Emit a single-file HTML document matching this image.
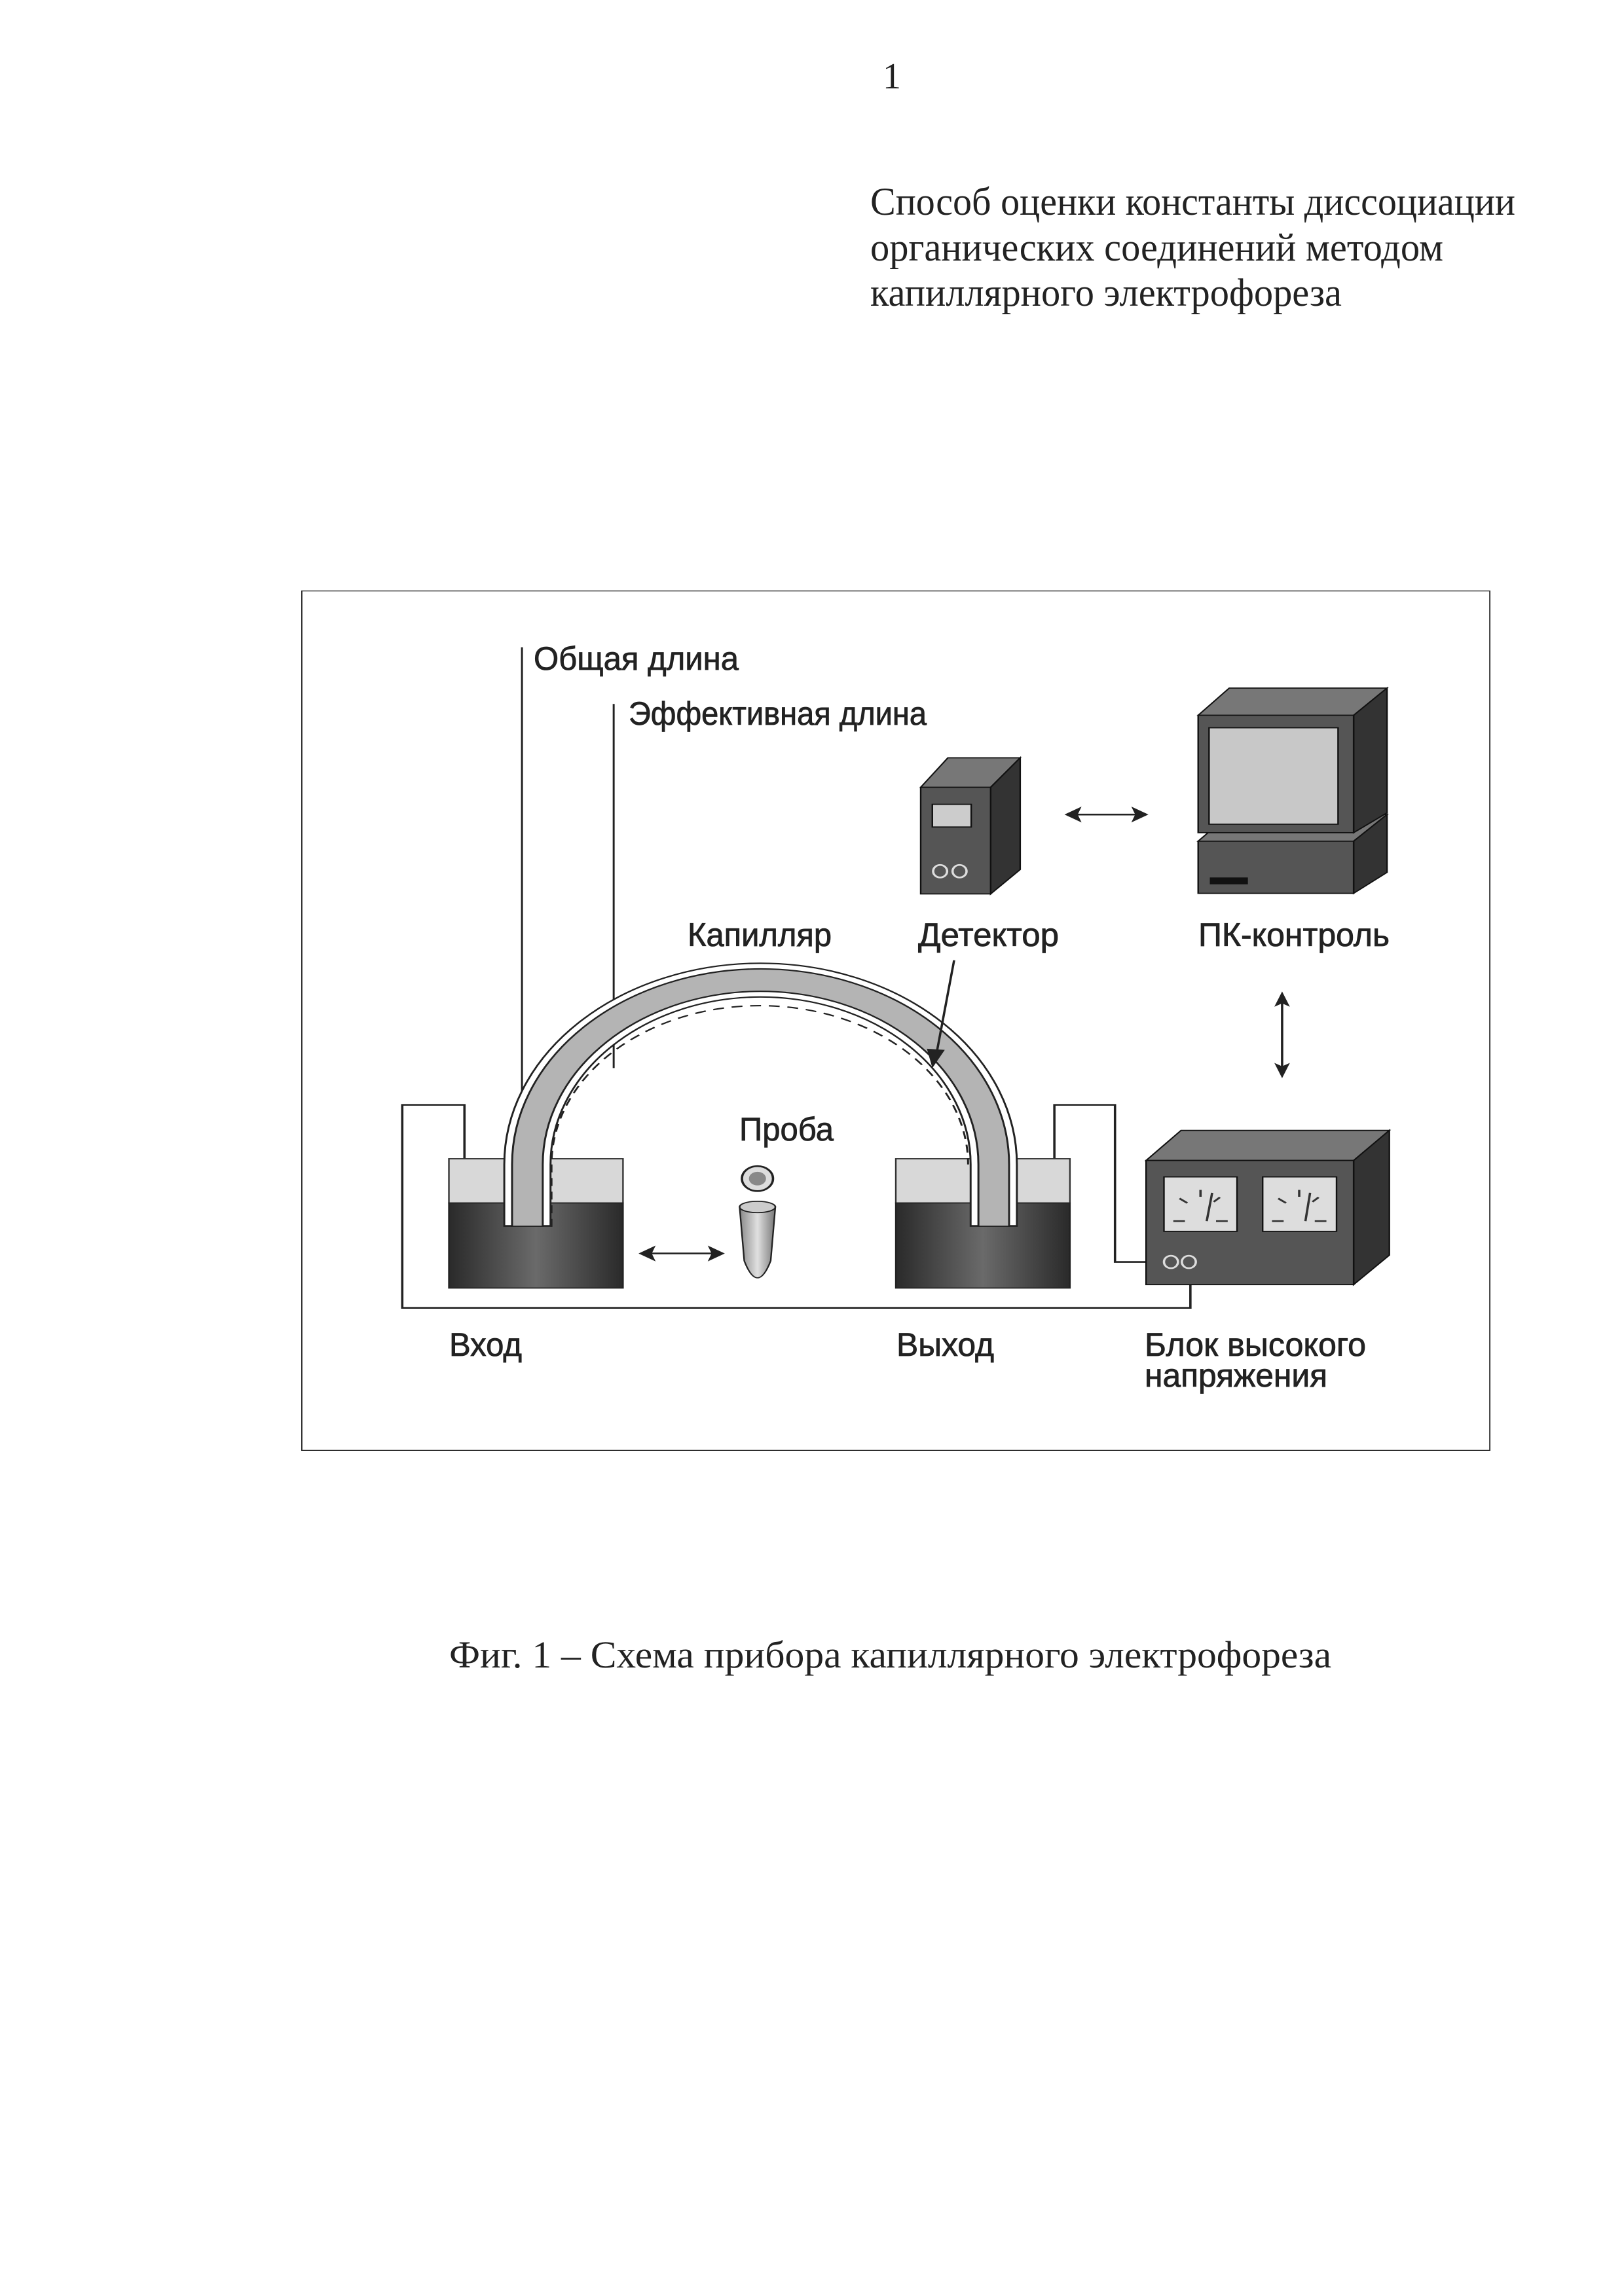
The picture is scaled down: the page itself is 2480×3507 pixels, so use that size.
<!DOCTYPE html>
<html><head><meta charset="utf-8"><style>html,body{margin:0;padding:0;background:#fff}svg{display:block}</style></head>
<body>
<svg xmlns="http://www.w3.org/2000/svg" width="2480" height="3507" viewBox="0 0 2480 3507">
<defs>
<linearGradient id="liq" x1="0" x2="1" y1="0" y2="0">
<stop offset="0" stop-color="#2a2a2a"/><stop offset="0.5" stop-color="#6a6a6a"/><stop offset="1" stop-color="#2a2a2a"/>
</linearGradient>
<linearGradient id="tube" x1="0" x2="1">
<stop offset="0" stop-color="#888"/><stop offset="0.5" stop-color="#e0e0e0"/><stop offset="1" stop-color="#777"/>
</linearGradient>
</defs>
<g font-family="'Liberation Serif', serif" fill="#222">
<text x="1348" y="135" font-size="56">1</text>
<text x="1329" y="328" font-size="60" textLength="985" lengthAdjust="spacingAndGlyphs">Способ оценки константы диссоциации</text>
<text x="1329" y="398" font-size="60" textLength="875" lengthAdjust="spacingAndGlyphs">органических соединений методом</text>
<text x="1329" y="467" font-size="60" textLength="720" lengthAdjust="spacingAndGlyphs">капиллярного электрофореза</text>
<text x="686" y="2547" font-size="58" textLength="1347" lengthAdjust="spacingAndGlyphs">Фиг. 1 –  Схема прибора капиллярного электрофореза</text>
</g>
<svg x="460" y="902" width="1816" height="1314" viewBox="18 28 1530 1517" preserveAspectRatio="none">
<rect x="18" y="28" width="1530" height="1517" fill="none" stroke="#222" stroke-width="3"/>
<path d="M228,1108 V935 H148 V1293 H1162 V1250" fill="none" stroke="#222" stroke-width="3"/>
<path d="M987,1108 V935 H1065 V1212 H1105" fill="none" stroke="#222" stroke-width="3"/>
<rect x="208" y="1030" width="224" height="78" fill="#d8d8d8" stroke="#333" stroke-width="2"/>
<rect x="208" y="1108" width="224" height="150" fill="url(#liq)" stroke="#222" stroke-width="2"/>
<rect x="783" y="1030" width="224" height="78" fill="#d8d8d8" stroke="#333" stroke-width="2"/>
<rect x="783" y="1108" width="224" height="150" fill="url(#liq)" stroke="#222" stroke-width="2"/>
<line x1="302" y1="128" x2="302" y2="955" stroke="#222" stroke-width="2.5"/>
<line x1="420" y1="228" x2="420" y2="870" stroke="#222" stroke-width="2.5"/>
<path d="M309,1150 L309,1040 A300,325 0 0 1 909,1040 L909,1150" fill="none" stroke="#222" stroke-width="62"/>
<path d="M309,1147 L309,1040 A300,325 0 0 1 909,1040 L909,1147" fill="none" stroke="#fff" stroke-width="57"/>
<path d="M309,1150 L309,1040 A300,325 0 0 1 909,1040 L909,1150" fill="none" stroke="#222" stroke-width="42"/>
<path d="M309,1148 L309,1040 A300,325 0 0 1 909,1040 L909,1148" fill="none" stroke="#b4b4b4" stroke-width="37"/>
<path d="M340,1150 L340,1040 A268,280 0 0 1 876,1040" fill="none" stroke="#222" stroke-width="2.5" stroke-dasharray="14,10"/>
<line x1="858" y1="680" x2="836" y2="840" stroke="#222" stroke-width="3"/>
<polygon points="830,870 823,836 846,838" fill="#222"/>
<ellipse cx="605" cy="1065" rx="20" ry="22" fill="#ddd" stroke="#222" stroke-width="3"/>
<ellipse cx="605" cy="1065" rx="11" ry="12" fill="#888"/>
<path d="M582,1115 L628,1115 L622,1210 Q605,1270 588,1210 Z" fill="url(#tube)" stroke="#222" stroke-width="2"/>
<ellipse cx="605" cy="1115" rx="23" ry="10" fill="#ccc" stroke="#222" stroke-width="2"/>
<g fill="#222">
<line x1="465" y1="1197" x2="550" y2="1197" stroke="#222" stroke-width="3"/>
<polygon points="452,1197 474,1183 469,1197 474,1211"/>
<polygon points="563,1197 541,1183 546,1197 541,1211"/>
<line x1="1013" y1="423" x2="1095" y2="423" stroke="#222" stroke-width="3"/>
<polygon points="1000,423 1022,409 1017,423 1022,437"/>
<polygon points="1108,423 1086,409 1091,423 1086,437"/>
<line x1="1280" y1="750" x2="1280" y2="873" stroke="#222" stroke-width="3"/>
<polygon points="1280,735 1290,762 1280,756 1270,762"/>
<polygon points="1280,888 1290,861 1280,867 1270,861"/>
</g>
<g stroke="#111" stroke-width="2">
<polygon points="815,375 850,323 943,323 905,375" fill="#777"/>
<polygon points="905,375 943,323 943,520 905,563" fill="#333"/>
<rect x="815" y="375" width="90" height="188" fill="#555"/>
<rect x="830" y="405" width="50" height="40" fill="#ccc"/>
<ellipse cx="840" cy="523" rx="9" ry="11" fill="none" stroke="#ddd" stroke-width="3"/>
<ellipse cx="865" cy="523" rx="9" ry="11" fill="none" stroke="#ddd" stroke-width="3"/>
</g>
<g stroke="#111" stroke-width="2">
<polygon points="1172,470 1212,423 1415,423 1372,470" fill="#777"/>
<polygon points="1372,470 1415,423 1415,525 1372,562" fill="#333"/>
<rect x="1172" y="470" width="200" height="92" fill="#555"/>
<rect x="1188" y="535" width="47" height="10" fill="#111"/>
<polygon points="1172,248 1212,200 1415,200 1372,248" fill="#777"/>
<polygon points="1372,248 1415,200 1415,420 1372,455" fill="#333"/>
<rect x="1172" y="248" width="200" height="207" fill="#555"/>
<rect x="1186" y="270" width="166" height="170" fill="#c8c8c8"/>
</g>
<g stroke="#111" stroke-width="2">
<polygon points="1105,1033 1150,980 1418,980 1372,1033" fill="#777"/>
<polygon points="1372,1033 1418,980 1418,1200 1372,1252" fill="#333"/>
<rect x="1105" y="1033" width="267" height="219" fill="#555"/>
<rect x="1128" y="1062" width="94" height="96" fill="#ddd"/>
<rect x="1255" y="1062" width="95" height="96" fill="#ddd"/>
<path d="M1140,1140 h15 M1195,1140 h15 M1148,1100 l10,8 M1175,1085 v12 M1200,1098 l-8,8 M1183,1140 L1190,1090 M1267,1140 h15 M1322,1140 h15 M1275,1100 l10,8 M1302,1085 v12 M1327,1098 l-8,8 M1310,1140 L1316,1090" stroke="#333" stroke-width="3"/>
<ellipse cx="1137" cy="1212" rx="9" ry="11" fill="none" stroke="#ddd" stroke-width="3"/>
<ellipse cx="1160" cy="1212" rx="9" ry="11" fill="none" stroke="#ddd" stroke-width="3"/>
</g>
</svg>
<g font-family="'Liberation Sans', sans-serif" fill="#222" stroke="#222" stroke-width="0.8" font-size="50">
<text x="815" y="1023" textLength="313" lengthAdjust="spacingAndGlyphs">Общая длина</text>
<text x="960" y="1107" textLength="455" lengthAdjust="spacingAndGlyphs">Эффективная длина</text>
<text x="1050" y="1445" textLength="220" lengthAdjust="spacingAndGlyphs">Капилляр</text>
<text x="1402" y="1445" textLength="215" lengthAdjust="spacingAndGlyphs">Детектор</text>
<text x="1830" y="1445" textLength="292" lengthAdjust="spacingAndGlyphs">ПК-контроль</text>
<text x="1129" y="1742" textLength="144" lengthAdjust="spacingAndGlyphs">Проба</text>
<text x="686" y="2071" textLength="111" lengthAdjust="spacingAndGlyphs">Вход</text>
<text x="1369" y="2071" textLength="149" lengthAdjust="spacingAndGlyphs">Выход</text>
<text x="1748" y="2071" textLength="338" lengthAdjust="spacingAndGlyphs">Блок высокого</text>
<text x="1748" y="2118" textLength="279" lengthAdjust="spacingAndGlyphs">напряжения</text>
</g>
</svg>
</body></html>
